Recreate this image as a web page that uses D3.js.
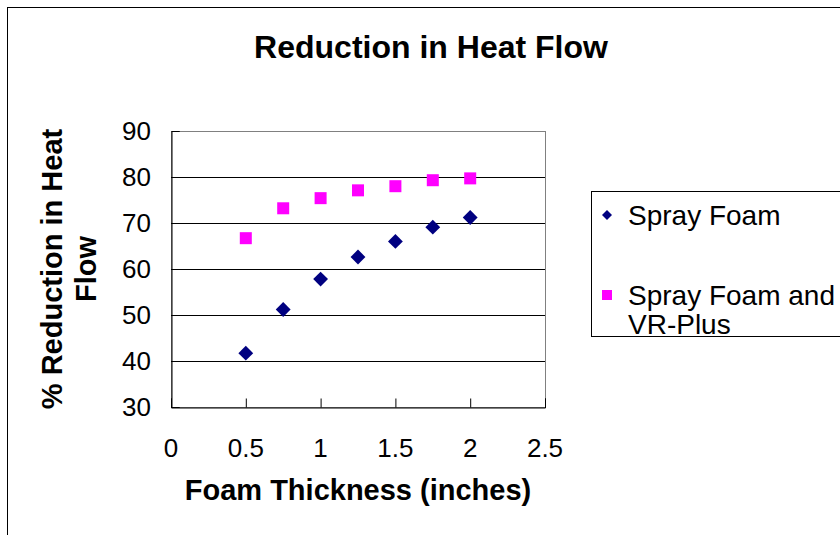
<!DOCTYPE html>
<html>
<head>
<meta charset="utf-8">
<script src="https://cdn.jsdelivr.net/npm/d3@7"></script>
<style>
  body { margin: 0; background: #fff; }
  text { font-family: Arial, "Liberation Sans", sans-serif; }
</style>
</head>
<body>
<div id="chart"></div>
<script>
// data
var thickness = [0.5, 0.75, 1.0, 1.25, 1.5, 1.75, 2.0];
var sprayFoam = [41.7, 51.2, 57.8, 62.6, 66.0, 69.1, 71.2];
var sprayFoamVR = [66.7, 73.2, 75.4, 77.1, 78.0, 79.3, 79.7];
var xTicks = [0, 0.5, 1, 1.5, 2, 2.5];
var yTicks = [30, 40, 50, 60, 70, 80, 90];
var seriesNames = ["Spray Foam", "Spray Foam and VR-Plus"];

var W = 840, H = 535;
var plot = {left: 171, top: 131, right: 545, bottom: 407};

var svg = d3.select("#chart")
  .append("svg")
  .attr("width", W)
  .attr("height", H);

// outer frame
svg.append("rect")
  .attr("x", 7.5).attr("y", 7.5)
  .attr("width", W).attr("height", H)
  .attr("fill", "#fff")
  .attr("stroke", "#000")
  .attr("stroke-width", 1);

var x = d3.scaleLinear().domain([0, 2.5]).range([plot.left, plot.right]);
var y = d3.scaleLinear().domain([30, 90]).range([plot.bottom, plot.top]);

// plot area border (gray)
svg.append("rect")
  .attr("x", plot.left + 0.5).attr("y", plot.top + 0.5)
  .attr("width", plot.right - plot.left).attr("height", plot.bottom - plot.top)
  .attr("fill", "none")
  .attr("stroke", "#808080");

// gridlines
svg.append("g")
  .selectAll("line")
  .data(yTicks.filter(function(d) { return d > 30 && d < 90; }))
  .enter()
  .append("line")
  .attr("x1", plot.left).attr("x2", plot.right)
  .attr("y1", function(d) { return Math.round(y(d)) + 0.5; })
  .attr("y2", function(d) { return Math.round(y(d)) + 0.5; })
  .attr("stroke", "#000");

// Y axis
var yAxis = svg.append("g")
  .attr("transform", "translate(" + (plot.left + 0.5) + ",0)")
  .call(d3.axisRight(y).tickValues(yTicks).tickSize(8).tickFormat(""));
yAxis.selectAll("line").attr("stroke", "#000");
yAxis.select(".domain").attr("stroke", "#000");

svg.append("g")
  .selectAll("text")
  .data(yTicks)
  .enter()
  .append("text")
  .attr("x", 151)
  .attr("y", function(d) { return y(d) + 9; })
  .attr("text-anchor", "end")
  .style("font-size", "26px")
  .text(function(d) { return d; });

// X axis
var xAxis = svg.append("g")
  .attr("transform", "translate(0," + (plot.bottom + 0.5) + ")")
  .call(d3.axisTop(x).tickValues(xTicks).tickSize(9).tickFormat(""));
xAxis.selectAll("line").attr("stroke", "#000");
xAxis.select(".domain").attr("stroke", "#000");

svg.append("g")
  .selectAll("text")
  .data(xTicks)
  .enter()
  .append("text")
  .attr("x", function(d) { return x(d); })
  .attr("y", 457)
  .attr("text-anchor", "middle")
  .style("font-size", "26px")
  .text(function(d) { return d; });

// title and axis titles
svg.append("text")
  .attr("x", 431).attr("y", 58)
  .attr("text-anchor", "middle")
  .style("font-size", "32px").style("font-weight", "bold")
  .text("Reduction in Heat Flow");

svg.append("text")
  .attr("x", 358).attr("y", 500)
  .attr("text-anchor", "middle")
  .style("font-size", "29px").style("font-weight", "bold")
  .text("Foam Thickness (inches)");

var yTitle = svg.append("text")
  .attr("transform", "translate(0," + ((plot.top + plot.bottom) / 2) + ") rotate(-90)")
  .attr("text-anchor", "middle")
  .style("font-size", "29px").style("font-weight", "bold");
yTitle.append("tspan").attr("x", 0).attr("y", 62).text("% Reduction in Heat");
yTitle.append("tspan").attr("x", 0).attr("y", 96).text("Flow");

// markers
var diamond = d3.symbol().type(d3.symbolSquare).size(110);
svg.append("g")
  .selectAll("path")
  .data(thickness)
  .enter()
  .append("path")
  .attr("d", diamond)
  .attr("transform", function(d, i) {
    return "translate(" + x(d) + "," + y(sprayFoam[i]) + ") rotate(45)";
  })
  .attr("fill", "#000080");

svg.append("g")
  .selectAll("rect")
  .data(thickness)
  .enter()
  .append("rect")
  .attr("x", function(d) { return x(d) - 6; })
  .attr("y", function(d, i) { return y(sprayFoamVR[i]) - 6; })
  .attr("width", 12).attr("height", 12)
  .attr("fill", "#ff00ff");

// legend
var lg = svg.append("g");
lg.append("rect")
  .attr("x", 591.5).attr("y", 191.5)
  .attr("width", 300).attr("height", 145)
  .attr("fill", "#fff").attr("stroke", "#000");

lg.append("path")
  .attr("d", d3.symbol().type(d3.symbolSquare).size(50))
  .attr("transform", "translate(607,215) rotate(45)")
  .attr("fill", "#000080");
lg.append("text")
  .attr("x", 628).attr("y", 225)
  .style("font-size", "28px")
  .text(seriesNames[0]);

lg.append("rect")
  .attr("x", 602).attr("y", 290)
  .attr("width", 10).attr("height", 10)
  .attr("fill", "#ff00ff");
var t2 = lg.append("text")
  .style("font-size", "28px");
t2.append("tspan").attr("x", 628).attr("y", 305).text("Spray Foam and");
t2.append("tspan").attr("x", 628).attr("y", 334).text("VR-Plus");
</script>
</body>
</html>
